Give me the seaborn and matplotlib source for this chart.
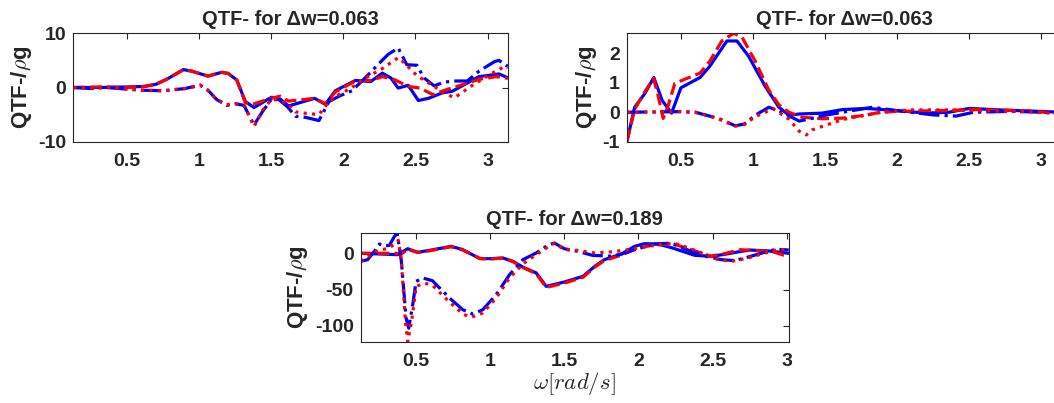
import numpy as np
import matplotlib
matplotlib.use("Agg")
import matplotlib.pyplot as plt
import seaborn as sns
from matplotlib.ticker import FuncFormatter

# ==============================================================================
# 1. DATA
# ==============================================================================
# --- panel 1 : QTF- for dw = 0.063 ---
p1_x_re_a = [0.126, 0.3, 0.5, 0.62, 0.70, 0.78, 0.89, 0.95, 1.06, 1.155, 1.20, 1.26, 1.32, 1.38,
             1.50, 1.56, 1.62, 1.80, 1.875, 1.944, 2.083, 2.19, 2.27, 2.33, 2.38, 2.45, 2.52,
             2.59, 2.685, 2.755, 2.94, 3.08, 3.14]
p1_re_a = [0.0, 0.0, 0.1, 0.2, 0.6, 1.6, 3.3, 3.0, 2.1, 2.8, 2.6, 1.4, -2.6, -3.7,
           -1.8, -2.1, -3.4, -2.0, -3.1, -0.6, 1.3, 1.1, 2.65, 1.75, -0.1, 0.4, -2.4,
           -2.0, -1.0, -0.7, 2.0, 2.5, 1.8]
p1_x_re_b = [0.126, 0.3, 0.5, 0.62, 0.70, 0.78, 0.89, 0.95, 1.06, 1.155, 1.20, 1.26, 1.32, 1.38,
             1.50, 1.56, 1.62, 1.80, 1.875, 1.944, 2.083, 2.19, 2.27, 2.35, 2.45, 2.53, 2.62,
             2.72, 2.80, 2.94, 3.06, 3.14]
p1_re_b = [0.0, 0.1, 0.0, 0.2, 0.6, 1.6, 3.3, 3.0, 2.1, 2.8, 2.6, 1.4, -2.8, -3.0,
           -2.0, -1.6, -2.5, -2.0, -3.0, -0.8, 1.2, 1.3, 2.0, 1.5, 0.2, -0.1, -1.3,
           -0.35, 0.3, 1.5, 2.0, 1.7]
p1_x_im_a = [0.126, 0.25, 0.35, 0.5, 0.6, 0.75, 0.9, 1.007, 1.06, 1.12, 1.19, 1.25, 1.31, 1.38,
             1.44, 1.50, 1.55, 1.61, 1.667, 1.736, 1.83, 1.9, 1.97, 2.06, 2.15, 2.25, 2.31,
             2.38, 2.44, 2.51, 2.56, 2.63, 2.70, 2.78, 2.86, 2.94, 3.05, 3.08, 3.14]
p1_im_a = [0.0, -0.2, 0.0, -0.3, -0.5, -0.6, -0.2, 0.45, -0.5, -2.2, -3.3, -3.0, -3.3, -6.9,
           -4.4, -2.2, -2.2, -3.5, -5.3, -5.5, -6.1, -2.6, -1.6, -0.6, 1.75, 4.5, 6.1,
           7.3, 4.2, 4.1, 1.75, 0.3, 1.0, 1.2, 1.2, 3.0, 4.8, 5.0, 3.9]
p1_x_im_b = [0.126, 0.25, 0.35, 0.5, 0.6, 0.75, 0.9, 1.007, 1.06, 1.12, 1.19, 1.25, 1.31, 1.38,
             1.44, 1.50, 1.55, 1.61, 1.667, 1.75, 1.83, 1.9, 1.97, 2.06, 2.15, 2.27, 2.38,
             2.42, 2.51, 2.62, 2.70, 2.77, 2.9, 3.03, 3.12, 3.14]
p1_im_b = [0.0, -0.1, 0.1, -0.3, -0.5, -0.6, -0.2, 0.4, -0.5, -2.2, -3.2, -3.0, -3.2, -7.2,
           -4.2, -2.2, -2.3, -3.0, -4.5, -4.8, -5.0, -2.6, -1.3, 0.0, 1.7, 3.5, 5.5,
           4.6, 2.2, 0.35, -1.0, -1.9, 0.5, 2.6, 3.9, 3.6]

# --- panel 2 : QTF- for dw = 0.063 ---
p2_x_re_a = [0.126, 0.179, 0.249, 0.312, 0.37, 0.435, 0.5, 0.633, 0.70, 0.819, 0.889, 0.97,
             1.086, 1.18, 1.25, 1.32, 1.48, 1.62, 1.785, 1.99, 2.2, 2.36, 2.5, 2.71, 3.14]
p2_re_a = [-0.98, 0.17, 0.63, 1.18, 0.40, -0.03, 0.83, 1.18, 1.56, 2.42, 2.42, 1.9,
           0.87, 0.17, -0.10, -0.06, -0.03, 0.09, 0.13, 0.06, -0.03, 0.0, 0.13, 0.08, 0.0]
p2_x_re_b = [0.126, 0.179, 0.25, 0.31, 0.34, 0.377, 0.41, 0.458, 0.517, 0.633, 0.70, 0.784,
             0.866, 0.924, 1.016, 1.11, 1.18, 1.25, 1.34, 1.48, 1.62, 1.785, 1.88, 2.0,
             2.36, 2.53, 2.9, 3.14]
p2_re_b = [-0.98, 0.1, 0.7, 1.15, 0.6, -0.21, 0.2, 0.98, 1.1, 1.33, 1.73, 2.42,
           2.68, 2.55, 1.73, 0.75, 0.25, 0.0, -0.17, -0.22, -0.2, -0.1, 0.0, 0.03,
           0.06, 0.09, 0.05, -0.05]
p2_x_im_a = [0.126, 0.5, 0.6, 0.76, 0.877, 0.94, 1.016, 1.11, 1.18, 1.25, 1.32, 1.40, 1.47,
             1.62, 1.83, 1.99, 2.25, 2.41, 2.53, 2.8, 3.14]
p2_im_a = [0.0, 0.02, 0.0, -0.21, -0.46, -0.40, -0.10, 0.17, 0.05, -0.12, -0.30, -0.22, -0.13,
           0.0, 0.17, 0.06, -0.09, -0.13, 0.0, 0.03, -0.02]
p2_x_im_b = [0.126, 0.5, 0.6, 0.76, 0.877, 0.94, 1.016, 1.14, 1.25, 1.32, 1.37, 1.41, 1.505,
             1.62, 1.785, 1.9, 2.08, 2.36, 2.6, 2.9, 3.14]
p2_im_b = [0.0, 0.02, 0.0, -0.22, -0.47, -0.42, -0.15, 0.12, -0.24, -0.64, -0.77, -0.60, -0.44,
           -0.25, -0.09, 0.0, 0.08, 0.08, 0.05, 0.02, -0.05]

# --- panel 3 : QTF- for dw = 0.189 ---
p3_x_re_a = [0.126, 0.376, 0.443, 0.51, 0.59, 0.736, 0.815, 0.93, 1.0, 1.085, 1.153, 1.22,
             1.31, 1.378, 1.50, 1.626, 1.705, 1.77, 1.885, 1.975, 2.04, 2.13, 2.23, 2.38,
             2.49, 2.58, 2.68, 2.75, 2.88, 3.014]
p3_re_a = [0.0, -1.9, 6.3, 1.4, 4.0, 9.6, 5.0, -7.4, -7.4, -6.5, -11.0, -19.0,
           -27.0, -45.5, -39.5, -31.7, -18.0, -8.8, -1.0, 9.6, 13.2, 12.8, 7.3, -2.8,
           -4.1, -1.5, 2.2, 4.5, 3.2, 0.0]
p3_x_re_b = [0.126, 0.36, 0.40, 0.443, 0.51, 0.59, 0.736, 0.815, 0.93, 1.0, 1.085, 1.153,
             1.22, 1.31, 1.378, 1.50, 1.626, 1.705, 1.77, 1.885, 1.99, 2.1, 2.24, 2.32,
             2.49, 2.58, 2.69, 2.8, 2.9, 2.98, 3.014]
p3_re_b = [0.0, 0.0, -1.0, 5.5, 1.0, 3.5, 9.0, 4.5, -7.0, -8.0, -6.5, -11.5,
           -19.5, -28.0, -47.0, -41.0, -33.0, -19.0, -10.0, -2.5, 6.7, 11.5, 12.8, 7.3,
           -4.0, -0.5, 5.0, 3.5, 2.5, -2.5, -2.5]
p3_x_im_a = [0.126, 0.173, 0.218, 0.252, 0.285, 0.32, 0.353, 0.372, 0.40, 0.432, 0.45, 0.477,
             0.5, 0.545, 0.61, 0.725, 0.815, 0.882, 0.95, 1.04, 1.13, 1.22, 1.31, 1.396,
             1.434, 1.5, 1.59, 1.69, 1.82, 1.885, 1.975, 2.11, 2.22, 2.31, 2.45, 2.56,
             2.65, 2.75, 2.88, 2.93, 3.014]
p3_im_a = [-11.0, -8.8, 2.7, 12.8, 10.0, 11.0, 23.0, 27.5, -10.0, -89.0, -103.0, -70.8,
           -38.6, -34.0, -37.7, -61.5, -77.6, -83.6, -77.6, -57.0, -29.5, -8.8, 0.4, 12.0,
           14.0, 6.3, 2.7, -2.8, -4.0, -1.0, 5.0, 12.8, 14.0, 6.3, -4.0, -8.8,
           -10.0, -4.6, 3.0, 5.5, 4.6]
p3_x_im_b = [0.126, 0.18, 0.23, 0.27, 0.32, 0.36, 0.38, 0.40, 0.428, 0.443, 0.47, 0.5,
             0.556, 0.61, 0.725, 0.815, 0.872, 0.95, 1.04, 1.13, 1.22, 1.31, 1.396, 1.434,
             1.5, 1.59, 1.7, 1.82, 1.9, 2.02, 2.13, 2.24, 2.33, 2.45, 2.54, 2.63,
             2.72, 2.85, 2.93, 3.014]
p3_im_b = [-11.0, -4.0, 2.7, 5.0, 7.3, 14.0, 18.0, -10.0, -93.6, -121.6, -93.0, -45.5,
           -41.0, -44.0, -67.0, -83.6, -88.0, -82.0, -61.5, -34.0, -14.7, -1.9, 9.6, 14.0,
           5.0, 4.0, 0.5, 2.0, 4.0, 8.0, 11.5, 14.0, 8.0, -1.5, -8.8, -11.0,
           -7.4, 0.0, 4.5, 5.5]

titles = ["QTF- for Δw=0.063", "QTF- for Δw=0.063", "QTF- for Δw=0.189"]
ylabel = "QTF-/$\\rho$g"
xlabel = "$\\omega[rad/s]$"

# ==============================================================================
# 2. STYLE
# ==============================================================================
sns.set_style("white")
plt.rcParams['font.family'] = ['Liberation Sans', 'DejaVu Sans']
plt.rcParams['font.weight'] = 'bold'
plt.rcParams['mathtext.fontset'] = 'cm'
plt.rcParams['axes.unicode_minus'] = False

BLUE = (0, 0, 1)
RED = (1, 0, 0)
LW = 2.3
FRAME = (0.15, 0.15, 0.15)

fig = plt.figure(figsize=(10.54, 4.03), dpi=100)
W, H = 1054.0, 403.0


def px_axes(left, top, right, bottom):
    # pixel box (from top-left) -> figure fraction
    return fig.add_axes([left / W, 1 - bottom / H, (right - left) / W, (bottom - top) / H])


ax1 = px_axes(73.3, 33.3, 507.7, 141.7)
ax2 = px_axes(627.0, 33.3, 1061.4, 141.7)   # runs past the right edge, as in the picture
ax3 = px_axes(360.7, 233.3, 788.7, 341.7)


def draw_panel(ax, series):
    for xs, ys, col, ls in series:
        sns.lineplot(x=xs, y=ys, ax=ax, color=col, linestyle=ls, linewidth=LW,
                     estimator=None, sort=False)


draw_panel(ax1, [(p1_x_re_a, p1_re_a, BLUE, '-'), (p1_x_re_b, p1_re_b, RED, '--'),
                 (p1_x_im_a, p1_im_a, BLUE, '-.'), (p1_x_im_b, p1_im_b, RED, ':')])
draw_panel(ax2, [(p2_x_re_a, p2_re_a, BLUE, '-'), (p2_x_re_b, p2_re_b, RED, '--'),
                 (p2_x_im_a, p2_im_a, BLUE, '-.'), (p2_x_im_b, p2_im_b, RED, ':')])
draw_panel(ax3, [(p3_x_re_a, p3_re_a, BLUE, '-'), (p3_x_re_b, p3_re_b, RED, '--'),
                 (p3_x_im_a, p3_im_a, BLUE, '-.'), (p3_x_im_b, p3_im_b, RED, ':')])

# axis limits (panel 1 fixed, others tight like MATLAB "axis tight")
ax1.set_xlim(0.126, 3.14)
ax1.set_ylim(-10, 10)
ax1.set_yticks([-10, 0, 10])

ax2.set_xlim(0.126, 3.14)
p2_all = p2_re_a + p2_re_b + p2_im_a + p2_im_b
ax2.set_ylim(min(p2_all), max(p2_all))
ax2.set_yticks([-1, 0, 1, 2])

ax3.set_xlim(0.126, 3.014)
p3_all = p3_re_a + p3_re_b + p3_im_a + p3_im_b
ax3.set_ylim(min(p3_all), max(p3_all))
ax3.set_yticks([-100, -50, 0])

label_x = [-0.09, -0.064, -0.118]
fmt = FuncFormatter(lambda v, pos: f"{v:g}")
for ax, title, lx in zip([ax1, ax2, ax3], titles, label_x):
    ax.set_xticks([0.5, 1, 1.5, 2, 2.5, 3])
    ax.xaxis.set_major_formatter(fmt)
    ax.yaxis.set_major_formatter(fmt)
    ax.tick_params(direction='in', length=4, width=0.8, colors=FRAME, labelsize=14,
                   top=True, right=True)
    ax.tick_params(axis='x', pad=8)
    ax.tick_params(axis='y', pad=5)
    for lab in ax.get_xticklabels() + ax.get_yticklabels():
        lab.set_fontweight('bold')
    for sp in ax.spines.values():
        sp.set_color(FRAME)
        sp.set_linewidth(0.8)
    ax.set_title(title, fontsize=14.5, fontweight='bold', pad=6)
    ax.set_ylabel(ylabel, fontsize=16, fontweight='bold', color=FRAME)
    ax.yaxis.set_label_coords(lx, 0.5)
    ax.set_xlabel("")

ax3.set_xlabel(xlabel, fontsize=16.5, color=FRAME, labelpad=0)

plt.savefig("out.png", dpi=100)
